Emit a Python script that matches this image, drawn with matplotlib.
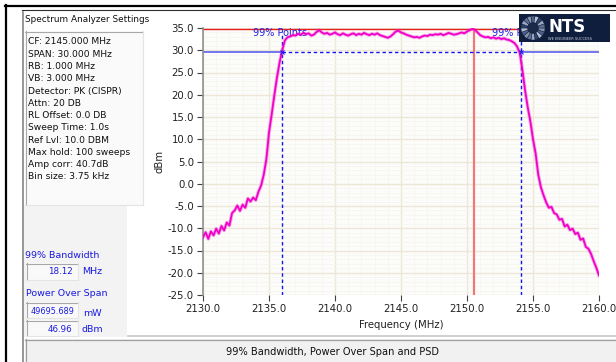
import numpy as np
import matplotlib
matplotlib.use("Agg")
import matplotlib.pyplot as plt
from matplotlib.patches import Rectangle, Circle, Wedge
from matplotlib.lines import Line2D

# ---------------- data ----------------
freq_start_mhz = 2130.0
freq_stop_mhz = 2160.0
level_dbm = [
    -12.0, -10.9, -12.4, -10.7, -11.6, -10.1, -11.2, -9.5, -10.5, -8.7,
    -9.4, -6.6, -6.0, -4.9, -6.1, -4.7, -5.4, -3.3, -4.0, -3.1,
    -3.7, -1.8, -0.4, 2.0, 5.5, 11.5, 15.5, 19.8, 23.8, 27.2,
    30.0, 32.2, 32.9, 33.1, 33.4, 33.3, 33.7, 33.5, 33.9, 33.6,
    33.8, 33.3, 33.5, 34.1, 34.5, 34.0, 33.7, 33.9, 33.5, 33.7,
    34.0, 33.6, 33.4, 33.8, 33.5, 33.3, 33.6, 33.8, 33.4, 33.7,
    33.5, 33.9, 33.6, 33.4, 33.7, 33.5, 33.8, 33.4, 33.2, 33.0,
    32.8, 33.1, 33.6, 34.2, 34.4, 34.0, 33.8, 33.5, 33.3, 33.1,
    32.9, 33.0, 32.8, 33.1, 33.3, 33.2, 33.5, 33.4, 33.6, 33.5,
    33.7, 33.4, 33.6, 33.9, 33.7, 33.5, 33.6, 33.8, 34.0, 33.8,
    34.2, 34.5, 34.8, 34.6, 34.0, 33.4, 33.1, 32.9, 33.0, 32.7,
    32.9, 32.6, 32.8, 32.5, 32.7, 32.4, 32.3, 32.0, 31.6, 30.8,
    29.4, 25.5, 21.0, 17.2, 14.0, 10.0, 6.8, 2.0, -0.8, -2.6,
    -4.2, -5.4, -5.2, -6.6, -6.9, -8.1, -7.9, -9.6, -9.2, -10.4,
    -10.1, -11.3, -11.0, -12.6, -12.3, -14.2, -14.6, -15.8, -17.4, -18.9,
    -20.6,
]
bw_left_mhz = 2135.96
bw_right_mhz = 2154.07
bw_level_dbm = 29.5
ref_level_dbm = 34.8
peak_freq_mhz = 2150.53

x_ticks = [2130.0, 2135.0, 2140.0, 2145.0, 2150.0, 2155.0, 2160.0]
y_ticks = [-25.0, -20.0, -15.0, -10.0, -5.0, 0.0, 5.0, 10.0, 15.0, 20.0, 25.0, 30.0, 35.0]

settings_title = "Spectrum Analyzer Settings"
settings_lines = [
    "CF: 2145.000 MHz",
    "SPAN: 30.000 MHz",
    "RB: 1.000 MHz",
    "VB: 3.000 MHz",
    "Detector: PK (CISPR)",
    "Attn: 20 DB",
    "RL Offset: 0.0 DB",
    "Sweep Time: 1.0s",
    "Ref Lvl: 10.0 DBM",
    "Max hold: 100 sweeps",
    "Amp corr: 40.7dB",
    "Bin size: 3.75 kHz",
]
bw_value = "18.12"
pos_mw = "49695.689"
pos_dbm = "46.96"
footer = "99% Bandwidth, Power Over Span and PSD"

# ---------------- figure ----------------
plt.rcParams["font.family"] = ["DejaVu Sans"]
plt.rcParams["axes.unicode_minus"] = False

W, H = 616, 362
fig = plt.figure(figsize=(W / 100, H / 100), dpi=100)
fig.patch.set_facecolor("white")


def fx(x):
    return x / W


def fy(y):
    return 1 - y / H


def rect(x0, y0, x1, y1, fc, z=1):
    fig.add_artist(Rectangle((fx(x0), fy(y1)), (x1 - x0) / W, (y1 - y0) / H,
                             transform=fig.transFigure, facecolor=fc,
                             edgecolor="none", zorder=z))


def hl(y, x0, x1, c, lw, z=2):
    fig.add_artist(Line2D([fx(x0), fx(x1)], [fy(y), fy(y)], transform=fig.transFigure,
                          color=c, linewidth=lw, zorder=z))


def vl(x, y0, y1, c, lw, z=2):
    fig.add_artist(Line2D([fx(x), fx(x)], [fy(y0), fy(y1)], transform=fig.transFigure,
                          color=c, linewidth=lw, zorder=z))


def sunken(x0, y0, x1, y1, fc="#F9F9F9"):
    rect(x0, y0, x1, y1, fc)
    hl(y0 + 0.5, x0, x1, "#A8A8A8", 0.8)
    vl(x0 + 0.5, y0, y1, "#A8A8A8", 0.8)
    hl(y1 - 0.5, x0, x1, "#E4E4E4", 0.8)
    vl(x1 - 0.5, y0, y1, "#E4E4E4", 0.8)


# frames
hl(5.5, 5, 616, "black", 1.6)
vl(6, 5, 362, "black", 1.6)
hl(9.5, 22, 616, "#303030", 0.8)
vl(23, 12, 362, "#7A7A7A", 1.1)

# left panel
rect(24, 205, 127, 337, "#F3F3F3")
sunken(25, 31, 143, 205, "#FAFAFA")
fig.text(fx(25), fy(19), settings_title, fontsize=6.4, color="#101010", va="center", ha="left")
for i, s in enumerate(settings_lines):
    fig.text(fx(28), fy(42 + 12.27 * i), s, fontsize=6.6, color="#101010", va="center", ha="left")

blue = "#1A1AE0"
fig.text(fx(25), fy(256), "99% Bandwidth", fontsize=6.8, color=blue, va="center")
sunken(26, 263, 78, 280)
fig.text(fx(73), fy(272), bw_value, fontsize=6.3, color=blue, va="center", ha="right")
fig.text(fx(82), fy(271), "MHz", fontsize=6.8, color=blue, va="center")
fig.text(fx(26), fy(294), "Power Over Span", fontsize=6.8, color=blue, va="center")
sunken(26, 302, 78, 318)
fig.text(fx(74), fy(311), pos_mw, fontsize=5.9, color=blue, va="center", ha="right")
fig.text(fx(83), fy(313), "mW", fontsize=6.8, color=blue, va="center")
sunken(26, 320, 78, 336)
fig.text(fx(72), fy(329), pos_dbm, fontsize=6.3, color=blue, va="center", ha="right")
fig.text(fx(81), fy(330), "dBm", fontsize=6.8, color=blue, va="center")

# bottom bar
hl(336, 128, 616, "#C8C8C8", 1.2)
rect(25, 339, 616, 362, "#F1F1F1")
hl(339.5, 25, 616, "#A0A0A0", 0.9)
vl(25.5, 339, 362, "#A0A0A0", 0.9)
fig.text(fx(332), fy(352), footer, fontsize=7.1, color="#101010", va="center", ha="center")

# ---------------- chart ----------------
ax = fig.add_axes([fx(203), fy(295), (599 - 203) / W, (295 - 28) / H])
ax.set_facecolor("#FCFCFA")
freq = np.linspace(freq_start_mhz, freq_stop_mhz, len(level_dbm))
ax.set_xlim(freq_start_mhz, freq_stop_mhz)
ax.set_ylim(y_ticks[0], y_ticks[-1])
ax.set_xticks(x_ticks)
ax.set_yticks(y_ticks)
ax.set_xticklabels([f"{v:.1f}" for v in x_ticks])
ax.set_yticklabels([f"{v:.1f}" for v in y_ticks])
ax.set_xticks(np.arange(freq_start_mhz, freq_stop_mhz, 1.0), minor=True)
ax.set_yticks(np.arange(y_ticks[0], y_ticks[-1], 1.0), minor=True)
ax.grid(which="major", color="#ECE7D6", linewidth=1.0)
ax.grid(which="minor", color="#F7F5EF", linewidth=0.6)
ax.set_axisbelow(True)
ax.tick_params(which="major", direction="out", length=4.5, width=0.8, color="#404040",
               labelsize=7.3, labelcolor="#202020", pad=2)
ax.tick_params(which="minor", length=0)
for side in ["top", "right", "bottom"]:
    ax.spines[side].set_visible(False)
ax.spines["left"].set_color("#909090")
ax.spines["left"].set_linewidth(1.2)
ax.set_xlabel("Frequency (MHz)", fontsize=7.3, color="#202020")
ax.set_ylabel("dBm", fontsize=7.3, color="#202020")
ax.xaxis.set_label_coords(0.5, -0.095)
ax.yaxis.set_label_coords(-0.097, 0.5)

# reference / cursor lines
ax.axhline(ref_level_dbm, color="#E82020", linewidth=1.0, zorder=2)
ax.axvline(peak_freq_mhz, color="#F07878", linewidth=1.6, zorder=2)
ax.plot([freq_start_mhz, bw_left_mhz], [bw_level_dbm] * 2, color="#5050EE", linewidth=1.1, zorder=2)
ax.plot([bw_right_mhz, freq_stop_mhz], [bw_level_dbm] * 2, color="#5050EE", linewidth=1.1, zorder=2)
ax.plot([bw_left_mhz, bw_right_mhz], [bw_level_dbm] * 2, color="#1515F0", linewidth=1.0,
        dashes=(2.5, 2), zorder=2)
for fb in (bw_left_mhz, bw_right_mhz):
    ax.plot([fb, fb], [y_ticks[0], 34.0], color="#1515F0", linewidth=1.0, dashes=(2.5, 2), zorder=2)
    ax.text(fb - 0.15, 33.9, "99% Points", fontsize=7, color="#2020E0", ha="center", va="center", zorder=2)
ax.plot([bw_left_mhz, bw_right_mhz], [bw_level_dbm] * 2, "x", color="#2020F0", ms=3.5, mew=0.8, zorder=4)

# trace
ax.plot(freq, level_dbm, color="#F020D0", linewidth=2.6, alpha=0.35, zorder=3)
ax.plot(freq, level_dbm, color="#F000C8", linewidth=1.3, zorder=3)

# ---------------- NTS logo ----------------
lax = fig.add_axes([fx(519), fy(42), 91 / W, 28 / H])
lax.set_zorder(5)
lax.set_xlim(0, 91)
lax.set_ylim(28, 0)
lax.set_facecolor("#0F1E3D")
for s in lax.spines.values():
    s.set_visible(False)
lax.set_xticks([])
lax.set_yticks([])
cols = ["#8894AC", "#4D6088", "#B4BED0", "#2E4168", "#9CA8BE", "#5E7096"]
n = 18
for k in range(n):
    lax.add_patch(Wedge((14, 14), 12, k * 360 / n, (k + 1) * 360 / n, width=6.5,
                        facecolor=cols[k % len(cols)], edgecolor="#0F1E3D", linewidth=0.3))
lax.add_patch(Circle((14, 14), 5, facecolor="#1A2A4A", edgecolor="none"))
lax.text(29, 12.5, "NTS", fontsize=12, fontweight="bold", color="white", ha="left", va="center")
lax.text(29.5, 24.5, "WE ENGINEER SUCCESS", fontsize=2.6, color="#C8D0E0", ha="left", va="center")

fig.savefig("out.png", dpi=100)
